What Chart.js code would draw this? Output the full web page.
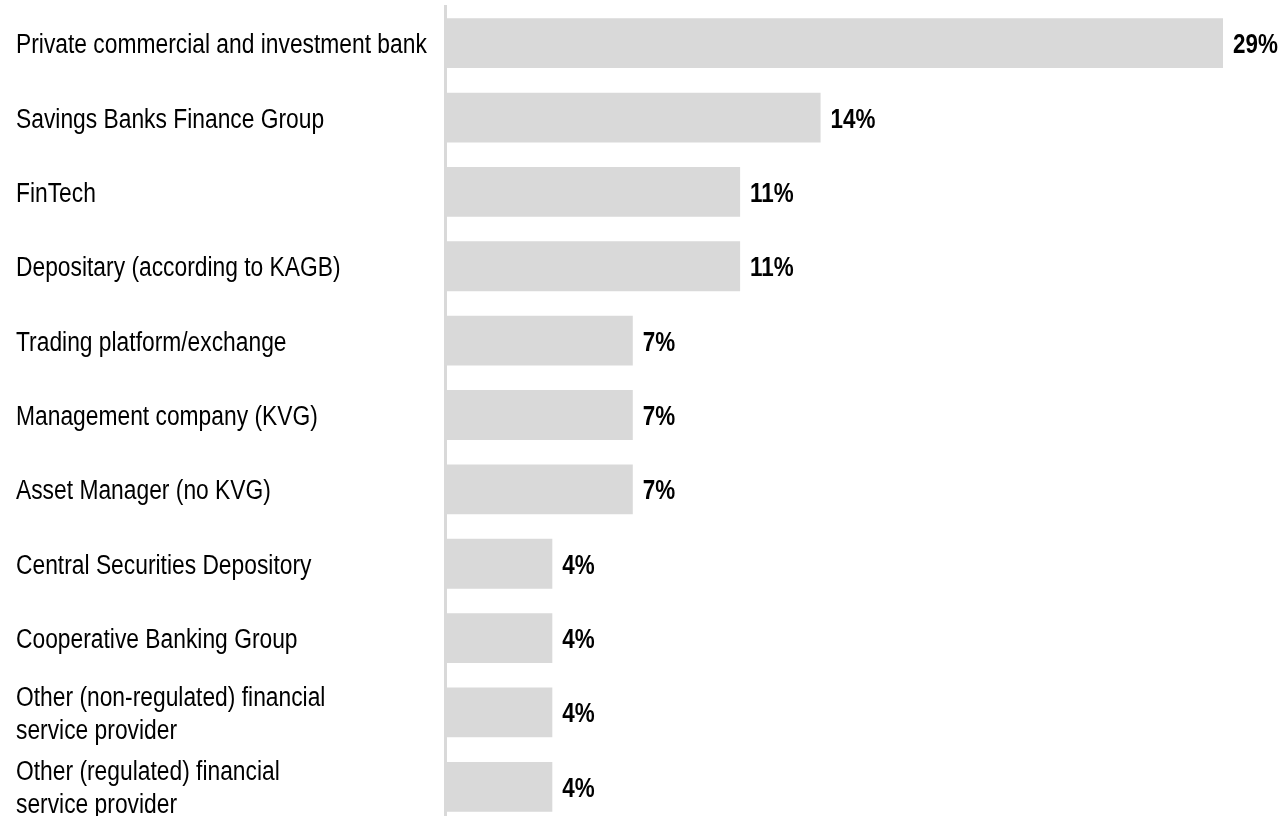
<!DOCTYPE html>
<html>
<head>
<meta charset="utf-8">
<script src="https://cdn.jsdelivr.net/npm/chart.js@4/dist/chart.umd.min.js"></script>
<style>
  html, body { margin: 0; padding: 0; background: #fff; overflow: hidden; }
  #wrap { width: 1280px; height: 830px; }
</style>
</head>
<body>
<div id="wrap"><canvas id="providerChart"></canvas></div>
<script>
const categories = [
  'Private commercial and investment bank',
  'Savings Banks Finance Group',
  'FinTech',
  'Depositary (according to KAGB)',
  'Trading platform/exchange',
  'Management company (KVG)',
  'Asset Manager (no KVG)',
  'Central Securities Depository',
  'Cooperative Banking Group',
  ['Other (non-regulated) financial', 'service provider'],
  ['Other (regulated) financial', 'service provider']
];
const shares = [29, 14, 11, 11, 7, 7, 7, 4, 4, 4, 4];

const FONT = "'Liberation Sans', Arial, sans-serif";
const BAR_COLOR = '#d9d9d9';
const LINE_GAP = 33;

// draw text squeezed horizontally, starting at x with baseline y
function narrowText(ctx, text, x, y, squeeze) {
  ctx.save();
  ctx.translate(x, y);
  ctx.scale(squeeze, 1);
  ctx.fillText(text, 0, 0);
  ctx.restore();
}

// category names on the left, plus percentage labels past each bar
const textLayer = {
  id: 'textLayer',
  afterDatasetsDraw(chart) {
    const { ctx } = chart;
    const yScale = chart.scales.y;
    const meta = chart.getDatasetMeta(0);
    ctx.save();
    ctx.fillStyle = '#000';
    ctx.textAlign = 'left';
    ctx.textBaseline = 'alphabetic';

    ctx.font = `27px ${FONT}`;
    categories.forEach((label, i) => {
      const lines = Array.isArray(label) ? label : [label];
      const mid = yScale.getPixelForValue(i);
      const first = mid - (lines.length - 1) * LINE_GAP / 2;
      lines.forEach((line, j) => narrowText(ctx, line, 16, first + j * LINE_GAP + 10, 0.845));
    });

    ctx.font = `bold 27px ${FONT}`;
    meta.data.forEach((bar, i) => {
      narrowText(ctx, `${shares[i]}%`, bar.x + 10, bar.y + 10, 0.83);
    });
    ctx.restore();
  }
};

const ctx = document.getElementById('providerChart').getContext('2d');
new Chart(ctx, {
  type: 'bar',
  data: {
    labels: categories,
    datasets: [{
      data: shares,
      backgroundColor: BAR_COLOR,
      borderWidth: 0,
      categoryPercentage: 1,
      barPercentage: 0.67
    }]
  },
  options: {
    indexAxis: 'y',
    responsive: true,
    maintainAspectRatio: false,
    animation: false,
    layout: { padding: { left: 16, right: 57, top: 6, bottom: 6 } },
    plugins: {
      legend: { display: false },
      tooltip: { enabled: false }
    },
    scales: {
      x: {
        display: false,
        min: 0,
        max: 29
      },
      y: {
        grid: { display: false },
        border: { display: true, color: '#d9d9d9', width: 3 },
        ticks: { display: false },
        afterFit(scale) {
          scale.width = 429;
          scale.paddingTop = 0;
          scale.paddingBottom = 0;
        }
      }
    }
  },
  plugins: [textLayer]
});
</script>
</body>
</html>
